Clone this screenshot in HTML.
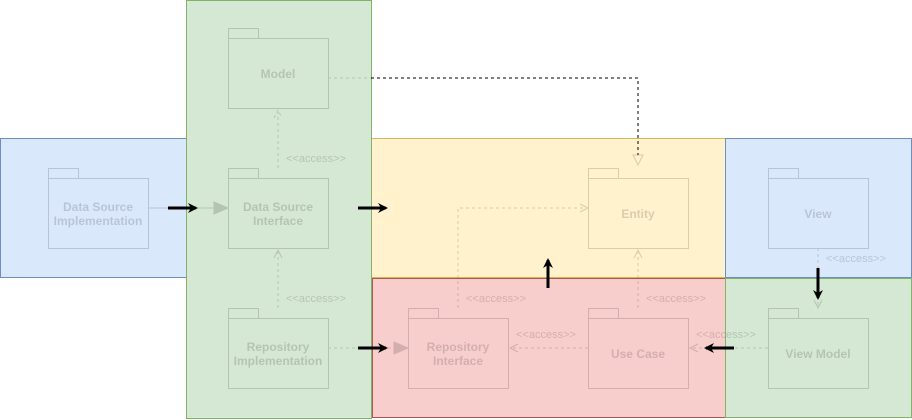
<!DOCTYPE html>
<html><head><style>html,body{margin:0;padding:0;background:#fff}svg{display:block}</style></head><body>
<svg width="912" height="420" xmlns="http://www.w3.org/2000/svg" font-family="Liberation Sans, sans-serif">
<defs>
<marker id="ab" markerWidth="10" markerHeight="10" refX="8" refY="5" orient="auto" markerUnits="userSpaceOnUse"><path d="M0,0 L10,5 L0,10 L3,5 Z" fill="#000"/></marker>
</defs>
<!-- regions -->
<rect x="0.5" y="138.5" width="186" height="139" fill="#dae8fc" stroke="#6c8ebf"/>
<rect x="371.5" y="138.5" width="354" height="139" fill="#fff2cc" stroke="#d6b656"/>
<rect x="725.5" y="138.5" width="186" height="139" fill="#dae8fc" stroke="#6c8ebf"/>
<rect x="372.5" y="278.5" width="353" height="139" fill="#f8cecc" stroke="#b85450"/>
<rect x="725.5" y="278.5" width="186" height="139" fill="#d5e8d4" stroke="#82b366"/>
<rect x="186.5" y="0.5" width="185" height="418" fill="#d5e8d4" stroke="#82b366"/>
<!-- black dashed -->
<path d="M371,78 H638 V155" fill="none" stroke="#000" stroke-dasharray="3,3"/>
<g opacity="0.15" stroke="#000" fill="none">
<path d="M328,78 H371" stroke-dasharray="3,3"/>
<path d="M633,155 L638,165 L643,155 Z"/>
<!-- packages -->
<g id="p">
<rect x="228.5" y="28.5" width="30" height="10"/><rect x="228.5" y="38.5" width="100" height="70"/>
<rect x="228.5" y="168.5" width="30" height="10"/><rect x="228.5" y="178.5" width="100" height="70"/>
<rect x="228.5" y="308.5" width="30" height="10"/><rect x="228.5" y="318.5" width="100" height="70"/>
<rect x="48.5" y="168.5" width="30" height="10"/><rect x="48.5" y="178.5" width="100" height="70"/>
<rect x="588.5" y="168.5" width="30" height="10"/><rect x="588.5" y="178.5" width="100" height="70"/>
<rect x="768.5" y="168.5" width="30" height="10"/><rect x="768.5" y="178.5" width="100" height="70"/>
<rect x="408.5" y="308.5" width="30" height="10"/><rect x="408.5" y="318.5" width="100" height="70"/>
<rect x="588.5" y="308.5" width="30" height="10"/><rect x="588.5" y="318.5" width="100" height="70"/>
<rect x="768.5" y="308.5" width="30" height="10"/><rect x="768.5" y="318.5" width="100" height="70"/>
</g>
<!-- connectors -->
<path d="M278,168 V112 M274,118 L278,110 L282,118" stroke-dasharray="3,3"/>
<path d="M278,308 V252" stroke-dasharray="3,3"/><path d="M274,258 L278,250 L282,258"/>
<path d="M148,208 H214"/><path d="M214,202 L228,208 L214,214 Z" fill="#000"/>
<path d="M328,348 H394" stroke-dasharray="3,3"/><path d="M394,342 L408,348 L394,354 Z" fill="#000"/>
<path d="M458,308 V208 H586" stroke-dasharray="3,3"/><path d="M580,204 L588,208 L580,212"/>
<path d="M638,308 V252" stroke-dasharray="3,3"/><path d="M634,258 L638,250 L642,258"/>
<path d="M588,348 H512" stroke-dasharray="3,3"/><path d="M518,344 L510,348 L518,352"/>
<path d="M768,348 H692" stroke-dasharray="3,3"/><path d="M698,344 L690,348 L698,352"/>
<path d="M818,248 V306" stroke-dasharray="3,3"/><path d="M814,300 L818,308 L822,300"/>
</g>
<g opacity="0.15" fill="#000" font-size="12" font-weight="bold" text-anchor="middle">
<text x="278" y="78">Model</text>
<text x="278" y="211">Data Source</text><text x="278" y="225">Interface</text>
<text x="278" y="351">Repository</text><text x="278" y="365">Implementation</text>
<text x="98" y="211">Data Source</text><text x="98" y="225">Implementation</text>
<text x="638" y="218">Entity</text>
<text x="818" y="218">View</text>
<text x="458" y="351">Repository</text><text x="458" y="365">Interface</text>
<text x="638" y="358">Use Case</text>
<text x="818" y="358">View Model</text>
</g>
<g opacity="0.15" fill="#000" font-size="11">
<text x="286" y="162">&lt;&lt;access&gt;&gt;</text>
<text x="286" y="302">&lt;&lt;access&gt;&gt;</text>
<text x="466" y="302">&lt;&lt;access&gt;&gt;</text>
<text x="646" y="302">&lt;&lt;access&gt;&gt;</text>
<text x="516" y="338">&lt;&lt;access&gt;&gt;</text>
<text x="696" y="338">&lt;&lt;access&gt;&gt;</text>
<text x="826" y="262">&lt;&lt;access&gt;&gt;</text>
</g>
<!-- black arrows -->
<g stroke="#000" stroke-width="3" fill="none">
<path d="M168,208 H196" marker-end="url(#ab)"/>
<path d="M358,208 H386" marker-end="url(#ab)"/>
<path d="M358,348 H386" marker-end="url(#ab)"/>
<path d="M548,288 V260" marker-end="url(#ab)"/>
<path d="M818,268 V298" marker-end="url(#ab)"/>
<path d="M734,348 H706" marker-end="url(#ab)"/>
</g>
</svg>
</body></html>
